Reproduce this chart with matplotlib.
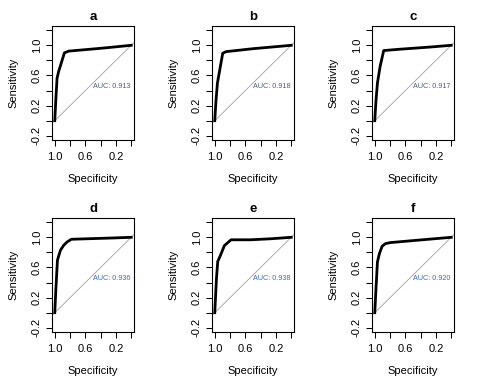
import matplotlib
matplotlib.use("Agg")
import matplotlib.pyplot as plt

plt.rcParams['font.family'] = ['Liberation Sans', 'DejaVu Sans']

# ROC curves (specificity, sensitivity)
spec_a = [1.0, 0.985, 0.97, 0.95, 0.874, 0.817, 0.40, 0.0]
sens_a = [0.0, 0.30, 0.563, 0.65, 0.90, 0.923, 0.96, 1.0]
spec_b = [1.0, 0.985, 0.965, 0.93, 0.896, 0.852, 0.50, 0.0]
sens_b = [0.0, 0.25, 0.50, 0.70, 0.894, 0.916, 0.955, 1.0]
spec_c = [1.0, 0.985, 0.965, 0.93, 0.883, 0.687, 0.30, 0.0]
sens_c = [0.0, 0.25, 0.50, 0.72, 0.93, 0.947, 0.975, 1.0]
spec_d = [1.0, 0.985, 0.965, 0.926, 0.883, 0.839, 0.783, 0.274, 0.0]
sens_d = [0.0, 0.32, 0.696, 0.828, 0.894, 0.938, 0.974, 0.99, 1.0]
spec_e = [1.0, 0.978, 0.961, 0.926, 0.874, 0.787, 0.535, 0.274, 0.0]
sens_e = [0.0, 0.45, 0.68, 0.76, 0.89, 0.967, 0.967, 0.98, 1.0]
spec_f = [1.0, 0.985, 0.965, 0.939, 0.904, 0.861, 0.796, 0.40, 0.0]
sens_f = [0.0, 0.30, 0.674, 0.784, 0.881, 0.916, 0.93, 0.965, 1.0]

labels = ['a', 'b', 'c', 'd', 'e', 'f']
auc = ['0.913', '0.918', '0.917', '0.936', '0.938', '0.920']
specs = [spec_a, spec_b, spec_c, spec_d, spec_e, spec_f]
senss = [sens_a, sens_b, sens_c, sens_d, sens_e, sens_f]
auc_colors = ['#4a5d80', '#4a5d80', '#4a5d80', '#2f6fba', '#2f6fba', '#2f6fba']

xticks = [1.0, 0.8, 0.6, 0.4, 0.2, 0.0]
xticklabels = ['1.0', '', '0.6', '', '0.2', '']
yticks = [-0.2, 0.0, 0.2, 0.4, 0.6, 0.8, 1.0, 1.2]
yticklabels = ['-0.2', '', '0.2', '', '0.6', '', '1.0', '']

fig = plt.figure(figsize=(4.8, 3.84), dpi=100)
W, H = 480, 384
for i in range(6):
    r, c = divmod(i, 3)
    left = 51.7 + 160 * c
    top = 26 + 192 * r
    ax = fig.add_axes([left / W, (H - top - 114) / H, 82.6 / W, 114 / H])
    ax.set_xlim(1.04, -0.04)
    ax.set_ylim(-0.256, 1.256)
    ax.plot([1.04, -0.04], [-0.04, 1.04], color='#a0a0a0', lw=0.6)
    ax.plot(specs[i], senss[i], color='black', lw=2.0, solid_joinstyle='round')
    ax.text(0.5, 0.45, 'AUC: ' + auc[i], fontsize=5.2, color=auc_colors[i],
            ha='left', va='center')
    ax.set_xticks(xticks)
    ax.set_xticklabels(xticklabels)
    ax.set_yticks(yticks)
    ax.set_yticklabels(yticklabels, rotation=90, va='center')
    ax.tick_params(axis='x', length=4, width=0.75, pad=5, labelsize=8)
    ax.tick_params(axis='y', length=4, width=0.75, pad=3, labelsize=8)
    for s in ax.spines.values():
        s.set_linewidth(0.8)
    ax.set_xlabel('Specificity', fontsize=8)
    ax.set_ylabel('Sensitivity', fontsize=8)
    ax.xaxis.set_label_coords(0.5, -0.298)
    ax.yaxis.set_label_coords(-0.408, 0.5)
    ax.text(0.5, 1 + 9.5 / 114, labels[i], transform=ax.transAxes,
            ha='center', va='center', fontsize=9.5, fontweight='bold')

fig.savefig('out.png', dpi=100)
